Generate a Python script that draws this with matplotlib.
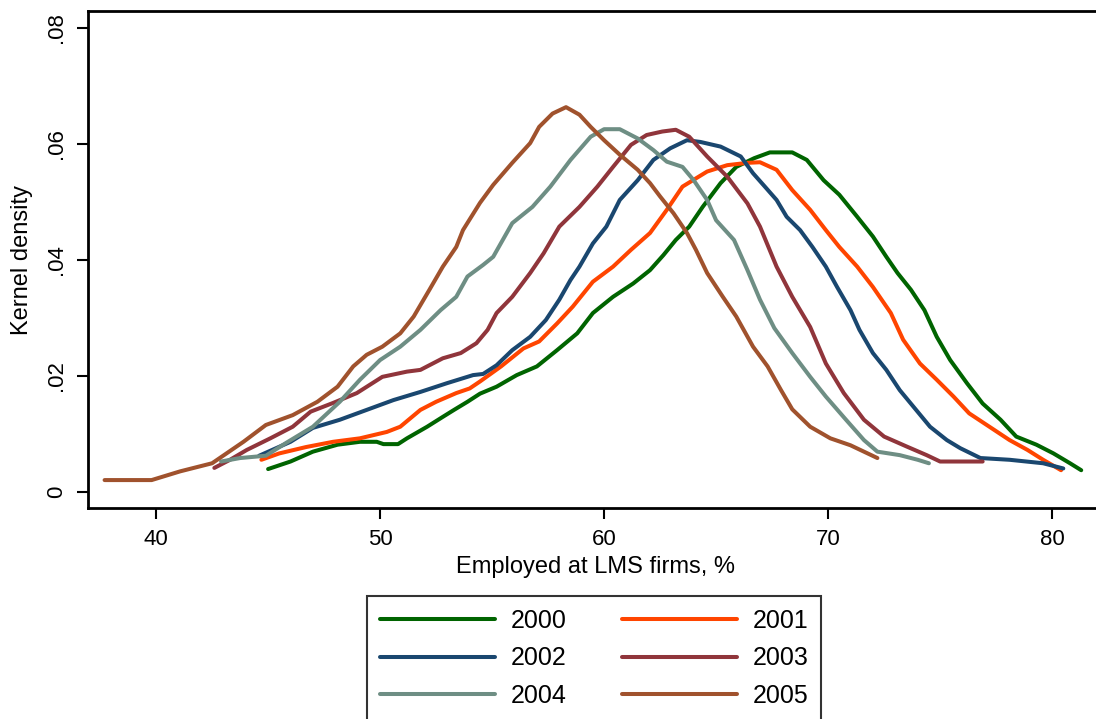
import matplotlib
matplotlib.use("Agg")
import matplotlib.pyplot as plt

plt.rcParams['font.family'] = ['Liberation Sans', 'DejaVu Sans']

# Densidades (x: % empleado en empresas LMS, y: densidad)
anios = ["2000", "2001", "2002", "2003", "2004", "2005"]
colores = ["#006400", "#FF4500", "#1A476F", "#90353B", "#6E8E84", "#A0522D"]

x_2000 = [45.0, 46.0, 47.0, 48.1, 49.1, 49.85, 50.15, 50.8, 51.2, 52.1, 52.8, 53.3, 53.9, 54.46,
          55.2, 56.1, 57.0, 57.9, 58.8, 59.5, 60.4, 61.3, 62.05, 62.65, 63.2, 63.8, 64.4, 65.2,
          65.9, 66.7, 67.4, 68.4, 69.05, 69.8, 70.5, 71.3, 72.0, 72.6, 73.1, 73.7, 74.3, 74.85,
          75.45, 76.2, 76.9, 77.7, 78.4, 79.3, 80.06, 80.8, 81.3]
y_2000 = [0.0039, 0.0052, 0.0069, 0.0081, 0.0086, 0.0086, 0.0082, 0.0082, 0.0092, 0.0112, 0.0129,
          0.0141, 0.0155, 0.0169, 0.0181, 0.0201, 0.0216, 0.0244, 0.0273, 0.0308, 0.0336, 0.0359,
          0.0382, 0.0408, 0.0434, 0.0457, 0.0491, 0.0532, 0.0560, 0.0575, 0.0585, 0.0585, 0.0572,
          0.0537, 0.0512, 0.0474, 0.0440, 0.0405, 0.0377, 0.0348, 0.0313, 0.0267, 0.0227, 0.0187,
          0.0152, 0.0124, 0.0095, 0.0081, 0.0066, 0.0049, 0.0037]

x_2001 = [44.7, 45.5, 46.7, 47.9, 49.1, 50.3, 50.9, 51.8, 52.5, 53.4, 54.0, 54.46, 55.4, 56.4,
          57.1, 57.9, 58.6, 59.5, 60.4, 61.2, 62.05, 62.8, 63.5, 64.6, 65.5, 66.4, 66.96, 67.7,
          68.4, 69.2, 69.9, 70.5, 71.3, 72.0, 72.8, 73.35, 74.1, 74.85, 75.6, 76.3, 77.2, 78.1,
          78.9, 79.6, 80.4]
y_2001 = [0.0055, 0.0066, 0.0077, 0.0086, 0.0092, 0.0103, 0.0112, 0.0141, 0.0155, 0.0170, 0.0178,
          0.0190, 0.0216, 0.0247, 0.0259, 0.0290, 0.0319, 0.0362, 0.0388, 0.0417, 0.0446, 0.0486,
          0.0526, 0.0552, 0.0563, 0.0567, 0.0568, 0.0555, 0.0520, 0.0486, 0.0451, 0.0422, 0.0388,
          0.0353, 0.0308, 0.0262, 0.0221, 0.0193, 0.0164, 0.0135, 0.0112, 0.0089, 0.0072, 0.0055,
          0.0037]

x_2002 = [44.6, 46.0, 47.0, 48.2, 49.4, 50.6, 51.8, 52.98, 54.15, 54.6, 55.2, 55.9, 56.7, 57.4,
          58.0, 58.5, 58.9, 59.5, 60.1, 60.7, 61.5, 62.2, 62.95, 63.7, 64.3, 65.2, 66.1, 66.65,
          67.2, 67.7, 68.15, 68.75, 69.3, 69.9, 70.4, 71.0, 71.4, 72.0, 72.6, 73.2, 73.8, 74.55,
          75.3, 75.9, 76.8, 78.1, 79.6, 80.5]
y_2002 = [0.0062, 0.0086, 0.0110, 0.0124, 0.0141, 0.0158, 0.0172, 0.0187, 0.0201, 0.0203, 0.0218,
          0.0244, 0.0267, 0.0296, 0.0331, 0.0365, 0.0388, 0.0428, 0.0457, 0.0503, 0.0537, 0.0572,
          0.0592, 0.0606, 0.0603, 0.0595, 0.0578, 0.0549, 0.0525, 0.0503, 0.0474, 0.0451, 0.0422,
          0.0388, 0.0353, 0.0313, 0.0279, 0.0239, 0.0210, 0.0175, 0.0147, 0.0112, 0.0089, 0.0075,
          0.0058, 0.0055, 0.0049, 0.0040]

x_2003 = [42.6, 43.3, 44.05, 45.1, 46.1, 46.9, 47.9, 48.96, 50.1, 51.2, 51.8, 52.8, 53.6, 54.3,
          54.8, 55.2, 55.9, 56.7, 57.3, 58.0, 58.9, 59.7, 60.4, 61.2, 61.9, 62.6, 63.2, 63.8,
          64.6, 65.5, 66.4, 66.96, 67.7, 68.4, 69.2, 69.9, 70.7, 71.6, 72.5, 73.5, 74.4, 75.0,
          76.9]
y_2003 = [0.0041, 0.0055, 0.0072, 0.0092, 0.0112, 0.0138, 0.0153, 0.0170, 0.0198, 0.0207, 0.0210,
          0.0230, 0.0239, 0.0256, 0.0279, 0.0308, 0.0336, 0.0377, 0.0411, 0.0457, 0.0491, 0.0526,
          0.0560, 0.0598, 0.0615, 0.0621, 0.0624, 0.0612, 0.0578, 0.0543, 0.0497, 0.0457, 0.0388,
          0.0336, 0.0284, 0.0221, 0.0170, 0.0124, 0.0095, 0.0078, 0.0063, 0.0052, 0.0052]

x_2004 = [42.9, 43.75, 44.9, 45.8, 47.0, 48.2, 49.1, 50.0, 50.9, 51.8, 52.7, 53.4, 53.9, 54.6,
          55.05, 55.9, 56.8, 57.6, 58.5, 59.4, 60.0, 60.7, 61.5, 62.2, 62.8, 63.5, 64.0, 64.6,
          65.0, 65.8, 66.4, 66.96, 67.6, 68.4, 69.2, 69.9, 70.8, 71.6, 72.2, 73.2, 74.0, 74.5]
y_2004 = [0.0052, 0.0058, 0.0062, 0.0084, 0.0112, 0.0155, 0.0193, 0.0227, 0.0250, 0.0279, 0.0313,
          0.0336, 0.0371, 0.0391, 0.0405, 0.0463, 0.0491, 0.0526, 0.0572, 0.0612, 0.0625, 0.0625,
          0.0609, 0.0589, 0.0569, 0.0560, 0.0537, 0.0503, 0.0468, 0.0434, 0.0382, 0.0331, 0.0282,
          0.0239, 0.0198, 0.0164, 0.0124, 0.0089, 0.0069, 0.0063, 0.0055, 0.0049]

x_2005 = [37.7, 39.8, 41.07, 42.5, 43.9, 44.9, 46.1, 47.2, 48.1, 48.8, 49.4, 50.1, 50.9, 51.5,
          52.2, 52.8, 53.4, 53.7, 54.46, 55.05, 55.9, 56.7, 57.1, 57.7, 58.3, 58.9, 59.4, 60.0,
          60.7, 61.5, 62.05, 62.5, 63.1, 63.7, 64.1, 64.6, 65.3, 65.9, 66.65, 67.3, 67.9, 68.4,
          69.2, 70.1, 71.0, 71.6, 72.2]
y_2005 = [0.0020, 0.0020, 0.0035, 0.0049, 0.0086, 0.0115, 0.0132, 0.0155, 0.0181, 0.0216, 0.0236,
          0.0250, 0.0273, 0.0302, 0.0348, 0.0388, 0.0422, 0.0451, 0.0498, 0.0529, 0.0567, 0.0601,
          0.0629, 0.0652, 0.0663, 0.0650, 0.0629, 0.0606, 0.0581, 0.0555, 0.0532, 0.0509, 0.0480,
          0.0446, 0.0417, 0.0377, 0.0336, 0.0302, 0.0250, 0.0216, 0.0175, 0.0142, 0.0112, 0.0092,
          0.0080, 0.0069, 0.0058]

xs = [x_2000, x_2001, x_2002, x_2003, x_2004, x_2005]
ys = [y_2000, y_2001, y_2002, y_2003, y_2004, y_2005]

fig = plt.figure(figsize=(10.96, 7.19), dpi=100)
ax = fig.add_axes([0.0803, 0.2935, 0.9197, 0.6912])

lineas = []
for x, y, anio, color in zip(xs, ys, anios, colores):
    l, = ax.plot(x, y, color=color, linewidth=2.9, label=anio, solid_capstyle='round')
    lineas.append(l)

ax.set_xlim(36.96, 81.96)
ax.set_ylim(-0.00281, 0.08288)
ax.set_xticks([40, 50, 60, 70, 80])
ax.set_yticks([0, 0.02, 0.04, 0.06, 0.08])
ax.set_yticklabels(["0", ".02", ".04", ".06", ".08"], rotation=90, va='center')

for lado in ['left', 'bottom', 'top']:
    ax.spines[lado].set_linewidth(2)
ax.spines['right'].set_visible(False)
ax.tick_params(axis='both', direction='out', length=8, width=1.5, labelsize=16, pad=7)

fig.text(22 / 1096, 1 - 260 / 719, "Kernel density", rotation=90, ha='center', va='center', fontsize=17)
fig.text(595 / 1096, 1 - 567 / 719, "Employed at LMS firms, %", ha='center', va='center', fontsize=17)

# Orden por filas como en la leyenda original
orden = [0, 2, 4, 1, 3, 5]
leg = fig.legend([lineas[i] for i in orden], [anios[i] for i in orden],
                 loc='upper left', bbox_to_anchor=(367 / 1096, 1 - 596 / 719), ncol=2,
                 fontsize=18, frameon=True, fancybox=False, edgecolor='black',
                 handlelength=4.6, handletextpad=0.65, columnspacing=2.2,
                 labelspacing=0.55, borderpad=0.5, borderaxespad=0)
leg.get_frame().set_linewidth(1.5)

fig.savefig("out.png", dpi=100)
